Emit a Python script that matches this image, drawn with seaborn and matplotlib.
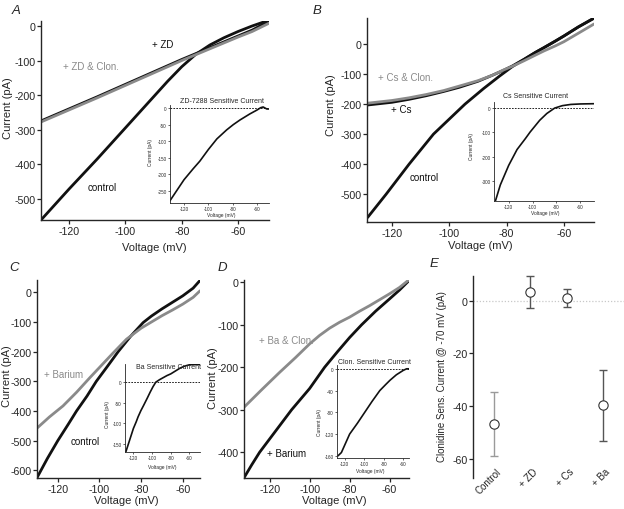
import matplotlib
matplotlib.use("Agg")
import matplotlib.pyplot as plt
import matplotlib.transforms as mtransforms
import seaborn as sns

W, H = 624, 510
BLACK = "#111111"
GRAY = "#8a8a8a"

# ---- panel A : ZD-7288 ----
a_v_control = [-130, -120, -110, -100, -90, -85, -80, -75, -70, -65, -60, -55, -49]
a_i_control = [-562, -472, -385, -295, -205, -160, -118, -82, -55, -34, -16, 0, 17]
a_v_zd = [-130, -120, -110, -100, -90, -80, -70, -60, -55, -49]
a_i_zd = [-275, -240, -205, -169, -133, -97, -63, -29, -12, 14]
a_v_zd_clon = [-130, -120, -110, -100, -90, -80, -70, -60, -55, -49]
a_i_zd_clon = [-278, -243, -208, -172, -136, -100, -66, -32, -16, 8]
a_v_diff = [-131.5, -120, -112.5, -107, -100, -93, -85, -79.5, -74, -66, -60, -57, -55, -52, -50]
a_i_diff = [-279, -216, -183, -160, -125, -93, -66, -50, -36, -18, -6, 1, 3, -3, -3]

# ---- panel B : Cs ----
b_v_control = [-128.5, -122, -114, -105.5, -100, -94.5, -88, -82.5, -78, -74, -70, -67, -63, -60, -55, -49.5]
b_i_control = [-578, -500, -400, -300, -250, -200, -148, -107, -75, -52, -28, -12, 10, 27, 57, 87]
b_v_cs = [-128.5, -120, -114, -108, -102, -96.5, -90, -85, -81, -78, -74, -70, -67, -63, -60, -55, -49.5]
b_i_cs = [-203, -194, -184, -172, -158, -144, -124, -104, -87, -73, -51, -28, -12, 10, 27, 57, 86]
b_v_cs_clon = [-128.5, -120, -114, -108, -102, -96.5, -90, -85, -81, -78, -74, -70, -67, -63, -60, -55, -49.5]
b_i_cs_clon = [-197, -188, -179, -168, -155, -140, -122, -104, -86, -74, -56, -37, -23, -6, 8, 36, 67]
b_v_diff = [-131, -127, -120, -113, -106, -102, -94, -88, -81.5, -75, -68, -60, -48.6]
b_i_diff = [-379, -315, -235, -170, -125, -98, -50, -22, 0, 10, 15, 17, 18]

# ---- panel C : Barium ----
c_v_control = [-130, -125, -120, -115, -111, -106, -101.5, -96, -91, -85, -79, -75, -70, -65, -60, -55, -51.7]
c_i_control = [-625, -560, -500, -445, -400, -350, -300, -248, -200, -148, -102, -80, -56, -34, -12, 14, 40]
c_v_ba = [-130, -124, -117.5, -111, -104.5, -99, -93.5, -87, -80, -75, -70, -65, -60, -55, -51.7]
c_i_ba = [-458, -420, -383, -337, -287, -246, -205, -158, -121, -100, -79, -60, -40, -17, 5]
c_v_diff = [-128, -126, -124, -122, -120, -117, -115, -112, -109, -105, -102, -99, -96, -92,
            -88, -84, -80, -75, -70, -65, -60, -55, -48.6]
c_i_diff = [-168, -154, -140, -126, -112, -96, -84, -69, -56, -38, -24, -11, 0, 6,
            11, 16, 20, 27, 34, 39, 42, 43, 43]

# ---- panel D : Barium + clonidine ----
d_v_ba = [-132.8, -129, -125, -117, -109, -100, -92.5, -86, -80, -74, -67, -60, -55, -50.3]
d_i_ba = [-460, -430, -400, -350, -300, -250, -200, -163, -130, -100, -68, -39, -18, 4]
d_v_ba_clon = [-132.8, -124, -115, -107, -100, -95, -90, -85, -80, -75, -70, -65, -60, -55, -50.3]
d_i_ba_clon = [-294, -253, -212, -177, -145, -125, -108, -94, -82, -68, -55, -41, -27, -12, 6]
d_v_diff = [-127, -123.5, -119, -115, -107, -99.5, -92, -84, -78, -73.5, -67, -60, -56.5, -54]
d_i_diff = [-160, -154, -136, -120, -100, -80, -60, -40, -29, -21, -11, -3, 0, 0]

# ---- panel E : summary ----
e_groups = ["Control", "+ ZD", "+ Cs", "+ Ba"]
e_mean = [-47, 3.4, 1.0, -39.6]
e_upper = [-34.5, 9.5, 4.6, -26.3]
e_lower = [-59, -2.5, -2.3, -53.3]
e_bar_colors = ["#9a9a9a", "#555555", "#555555", "#555555"]

volt_ticks = [-120, -100, -80, -60]

sns.set_style("ticks")
plt.rcParams["font.family"] = ["Liberation Sans", "DejaVu Sans"]
plt.rcParams["axes.unicode_minus"] = False

fig = plt.figure(figsize=(6.24, 5.10), dpi=100)


def add_box(l, t, r, b):
    ax = fig.add_axes([l / W, 1 - b / H, (r - l) / W, (b - t) / H])
    ax.box_px = (l, t, r, b)
    return ax


def label_at(ax, which, text, px, py, size):
    l, t, r, b = ax.box_px
    axis = ax.xaxis if which == "x" else ax.yaxis
    axis.set_label_text(text, fontsize=size)
    axis.set_label_coords((px - l) / (r - l), (b - py) / (b - t))
    axis.label.set_va("center")
    axis.label.set_ha("center")


def fig_text(px, py, s, **kw):
    fig.text(px / W, 1 - py / H, s, ha="center", va="center", **kw)


def main_panel(box, xlim, ylim, yticks, traces, xlab_pos, ylab_pos):
    ax = add_box(*box)
    for v, i, c in traces:
        sns.lineplot(x=v, y=i, ax=ax, color=c, linewidth=2.0, legend=False)
    ax.set_xlim(xlim)
    ax.set_ylim(ylim)
    ax.set_xticks(volt_ticks)
    ax.set_yticks(yticks)
    sns.despine(ax=ax)
    for s in ["left", "bottom"]:
        ax.spines[s].set_linewidth(1.0)
    ax.tick_params(axis="both", labelsize=7.7, length=3.0, width=0.9)
    ax.tick_params(axis="y", pad=1)
    ax.tick_params(axis="x", pad=1.5)
    label_at(ax, "x", "Voltage (mV)", *xlab_pos, size=8)
    label_at(ax, "y", "Current (pA)", *ylab_pos, size=8)
    return ax


def inset_panel(box, xlim, ylim, yticks, v, i, title, title_pos, xlab_pos, ylab_pos):
    ax = add_box(*box)
    ax.set_facecolor("white")
    ax.axhline(0, color="black", lw=0.6, ls=(0, (2, 1.5)), zorder=1)
    sns.lineplot(x=v, y=i, ax=ax, color=BLACK, linewidth=1.2, legend=False)
    ax.set_xlim(xlim)
    ax.set_ylim(ylim)
    ax.set_xticks(volt_ticks)
    ax.set_yticks(yticks)
    sns.despine(ax=ax)
    for s in ["left", "bottom"]:
        ax.spines[s].set_linewidth(0.6)
    ax.tick_params(axis="both", labelsize=3.3, length=1.5, width=0.5, pad=0.8)
    label_at(ax, "x", "Voltage (mV)", *xlab_pos, size=3.5)
    label_at(ax, "y", "Current (pA)", *ylab_pos, size=3.5)
    fig_text(*title_pos, title, fontsize=5)
    return ax


# Panel A
main_panel((41, 22, 269, 221), (-130, -49), (-562, 14.5), [0, -100, -200, -300, -400, -500],
           [(a_v_control, a_i_control, BLACK), (a_v_zd, a_i_zd, BLACK),
            (a_v_zd_clon, a_i_zd_clon, GRAY)],
           (154.5, 248), (8, 108))
inset_panel((170, 106, 269, 204), (-131.5, -50.2), (-286, 9), [0, -50, -100, -150, -200, -250],
            a_v_diff, a_i_diff, "ZD-7288 Sensitive Current", (222, 102), (221, 216), (151, 152))
fig_text(163, 45, "+ ZD", fontsize=7, color=BLACK)
fig_text(91, 67, "+ ZD & Clon.", fontsize=7, color=GRAY)
fig_text(102, 188, "control", fontsize=7, color=BLACK)

# Panel B
main_panel((367, 19, 594, 223), (-128.7, -49.5), (-593, 87), [0, -100, -200, -300, -400, -500],
           [(b_v_control, b_i_control, BLACK), (b_v_cs, b_i_cs, BLACK),
            (b_v_cs_clon, b_i_cs_clon, GRAY)],
           (480, 246), (331, 105))
inset_panel((494, 103, 594, 202), (-132.3, -48.5), (-381, 25), [0, -100, -200, -300],
            b_v_diff, b_i_diff, "Cs Sensitive Current", (536, 97), (545, 214), (471, 147))
fig_text(405, 78, "+ Cs & Clon.", fontsize=7, color=GRAY)
fig_text(401, 110, "+ Cs", fontsize=7, color=BLACK)
fig_text(424.5, 178, "control", fontsize=7, color=BLACK)

# Panel C
main_panel((37, 281, 200, 479), (-130, -51.7), (-626, 41.5), [0, -100, -200, -300, -400, -500, -600],
           [(c_v_control, c_i_control, BLACK), (c_v_ba, c_i_ba, GRAY)],
           (126, 501), (7, 376))
inset_panel((125, 365, 200, 453), (-129, -48.6), (-169, 44), [0, -50, -100, -150],
            c_v_diff, c_i_diff, "Ba Sensitive Current", (169, 368), (162, 468), (108, 415))
fig_text(64, 375, "+ Barium", fontsize=7, color=GRAY)
fig_text(85, 442, "control", fontsize=7, color=BLACK)

# Panel D
main_panel((244, 281, 409, 479), (-132.8, -50.3), (-460.5, 5.4), [0, -100, -200, -300, -400],
           [(d_v_ba, d_i_ba, BLACK), (d_v_ba_clon, d_i_ba_clon, GRAY)],
           (334.5, 501), (213, 378))
inset_panel((337, 366, 409, 459), (-128, -54), (-164, 7), [0, -40, -80, -120, -160],
            d_v_diff, d_i_diff, "Clon. Sensitive Current", (374, 362), (370, 472), (320, 422))
fig_text(286, 341, "+ Ba & Clon.", fontsize=7, color=GRAY)
fig_text(287, 454, "+ Barium", fontsize=7, color=BLACK)

# Panel E
axe = add_box(473, 277, 624, 479)
axe.axhline(0, color="#c8c8c8", lw=0.9, ls=(0, (1, 1.5)), zorder=0)
for k in range(len(e_groups)):
    axe.errorbar(k, e_mean[k], yerr=[[e_mean[k] - e_lower[k]], [e_upper[k] - e_mean[k]]],
                 fmt="none", ecolor=e_bar_colors[k], elinewidth=1.0, capsize=3.2,
                 capthick=1.0, zorder=2, clip_on=False)
sns.scatterplot(x=e_groups, y=e_mean, ax=axe, marker="o", s=45, color="white",
                edgecolor="#333333", linewidth=0.8, zorder=3, legend=False, clip_on=False)
axe.set_xlim(-0.58, 3.58)
axe.set_ylim(-67.4, 9.5)
axe.set_yticks([0, -20, -40, -60])
axe.set_xticks(range(len(e_groups)))
axe.set_xticklabels(e_groups, rotation=45, ha="right", va="top", rotation_mode="anchor")
sns.despine(ax=axe, bottom=True)
axe.spines["left"].set_linewidth(1.0)
axe.tick_params(axis="y", labelsize=7.7, length=3.0, width=0.9, pad=1)
axe.tick_params(axis="x", labelsize=7, length=0, pad=0)
shift = mtransforms.ScaledTranslation(2 / 100, 12 / 100, fig.dpi_scale_trans)
for lab in axe.get_xticklabels():
    lab.set_transform(lab.get_transform() + shift)
label_at(axe, "y", "Clonidine Sens. Current @ -70 mV (pA)", 442, 377, size=7)
axe.xaxis.label.set_visible(False)

# Panel letters
for letter, px, py in [("A", 16, 11), ("B", 317, 11), ("C", 14, 268), ("D", 222, 268), ("E", 434, 264)]:
    fig_text(px, py, letter, fontsize=9.5, style="italic")

fig.savefig("out.png", dpi=100)
